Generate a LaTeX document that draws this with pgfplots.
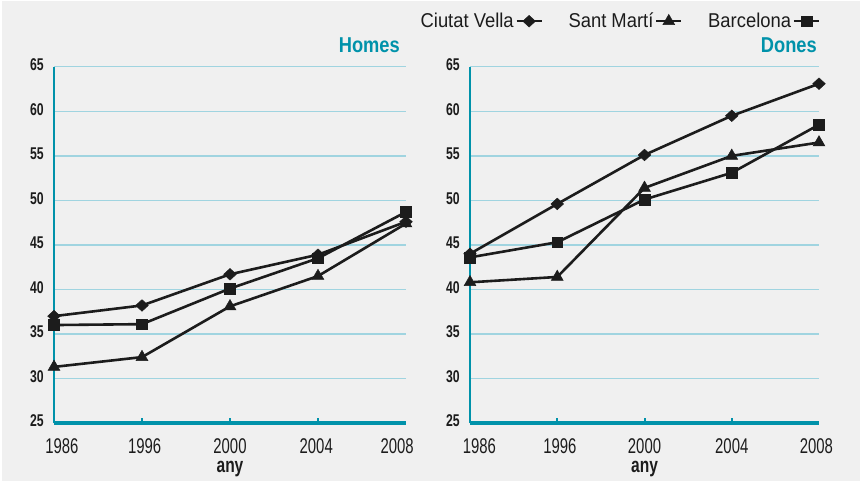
\documentclass[border=0pt]{standalone}
\usepackage{pgfplots}
\pgfplotsset{compat=1.18}
\usepackage{fontspec}
\setmainfont{Liberation Sans}
\newfontfamily\xtfont{Liberation Sans}[FakeStretch=0.70]
\newfontfamily\ytfont{Liberation Sans}[FakeStretch=0.72]
\newfontfamily\legfont{Liberation Sans}[FakeStretch=0.92]
\newfontfamily\titfont{Liberation Sans}[FakeStretch=0.85]
\newfontfamily\anyfont{Liberation Sans}[FakeStretch=0.74]
\definecolor{bgc}{RGB}{240,240,240}
\definecolor{tealc}{RGB}{0,146,170}
\definecolor{gridc}{RGB}{160,212,224}
\definecolor{ink}{RGB}{28,28,28}

\pgfplotsset{
  panel/.style={
    scale only axis,
    height=356.2bp,
    xmin=0, xmax=4, ymin=25, ymax=65,
    axis x line*=bottom, axis y line*=left,
    x axis line style={line width=4.3bp, draw=tealc},
    y axis line style={line width=2.5bp, draw=tealc},
    ytick={25,30,...,65},
    ymajorgrids,
    grid style={draw=gridc, line width=1.3bp},
    major tick length=0pt,
    tick style={draw=tealc, line width=2bp},
    extra x ticks={1,2,3},
    extra x tick labels={},
    extra x tick style={major tick length=5.5bp, tick align=inside},
    /pgf/number format/assume math mode=true,
    yticklabel style={font=\ytfont\bfseries\fontsize{17bp}{19bp}\selectfont, color=ink, anchor=east, inner sep=0pt, xshift=-10bp, yshift=2bp},
    xticklabel style={font=\xtfont\fontsize{21.3bp}{23bp}\selectfont, color=ink, anchor=base, inner sep=0pt, yshift=-30bp},
    xlabel={any},
    xlabel style={font=\anyfont\bfseries\fontsize{21bp}{23bp}\selectfont, color=ink, at={(axis description cs:0.5,0)}, anchor=base, inner sep=0pt, yshift=-49.7bp},
    title style={font=\titfont\bfseries\fontsize{21.5bp}{24bp}\selectfont, color=tealc, at={(axis description cs:1,1)}, anchor=base east, inner sep=0pt, yshift=8bp},
    clip=false,
    every axis plot/.append style={line width=2.6bp, draw=ink},
  },
  cv/.style={mark=diamond*, mark size=5.8bp, mark options={xscale=1.45, fill=ink, draw=ink, solid, line width=0.5bp}},
  sm/.style={mark=triangle*, mark size=6.8bp, mark options={fill=ink, draw=ink, solid, line width=0.5bp}},
  bcn/.style={mark=square*, mark size=5.4bp, mark options={fill=ink, draw=ink, solid, line width=0.5bp}},
}

\begin{document}
\begin{tikzpicture}
\fill[white] (0bp,0bp) rectangle (860bp,-481bp);
\fill[bgc] (2bp,-1bp) rectangle (860bp,-481bp);

% Homes
\begin{axis}[panel,
  at={(54bp,-423bp)}, anchor=south west,
  width=352bp,
  title={Homes}, title style={xshift=-6bp},
  xtick={0.09,1.03,2,2.98,3.9},
  xticklabels={1986,1996,2000,2004,2008},
]
\addplot[cv] coordinates {(0,37.0) (1,38.2) (2,41.7) (3,43.9) (4,47.6)};
\addplot[sm] coordinates {(0,31.3) (1,32.4) (2,38.1) (3,41.5) (4,47.4)};
\addplot[bcn] coordinates {(0,36.0) (1,36.1) (2,40.1) (3,43.5) (4,48.7)};
\end{axis}

% Dones
\begin{axis}[panel,
  at={(470bp,-423bp)}, anchor=south west,
  width=349bp,
  title={Dones}, title style={xshift=-2bp},
  xtick={0.107,1.03,2,3,3.97},
  xticklabels={1986,1996,2000,2004,2008},
  legend columns=3,
  legend style={draw=none, fill=none, at={(1.003,1.128)}, anchor=east,
    font=\legfont\fontsize{20bp}{22bp}\selectfont, text=ink,
    inner sep=0pt, nodes={inner xsep=2bp, inner ysep=0bp},
    /tikz/every even column/.append style={column sep=24bp}},
  legend plot pos=right,
  legend image code/.code={\draw[#1,line width=1.8bp,mark repeat=2,mark phase=2] plot coordinates {(0bp,0bp) (12.5bp,0bp) (25bp,0bp)};},
]
\addplot[cv] coordinates {(0,44.0) (1,49.6) (2,55.1) (3,59.5) (4,63.1)};
\addplot[sm] coordinates {(0,40.8) (1,41.4) (2,51.4) (3,55.0) (4,56.5)};
\addplot[bcn] coordinates {(0,43.6) (1,45.3) (2,50.1) (3,53.1) (4,58.5)};
\legend{Ciutat Vella,Sant Martí,Barcelona}
\end{axis}
\pgfresetboundingbox
\useasboundingbox (0bp,0bp) rectangle (860bp,-481bp);
\end{tikzpicture}
\end{document}
